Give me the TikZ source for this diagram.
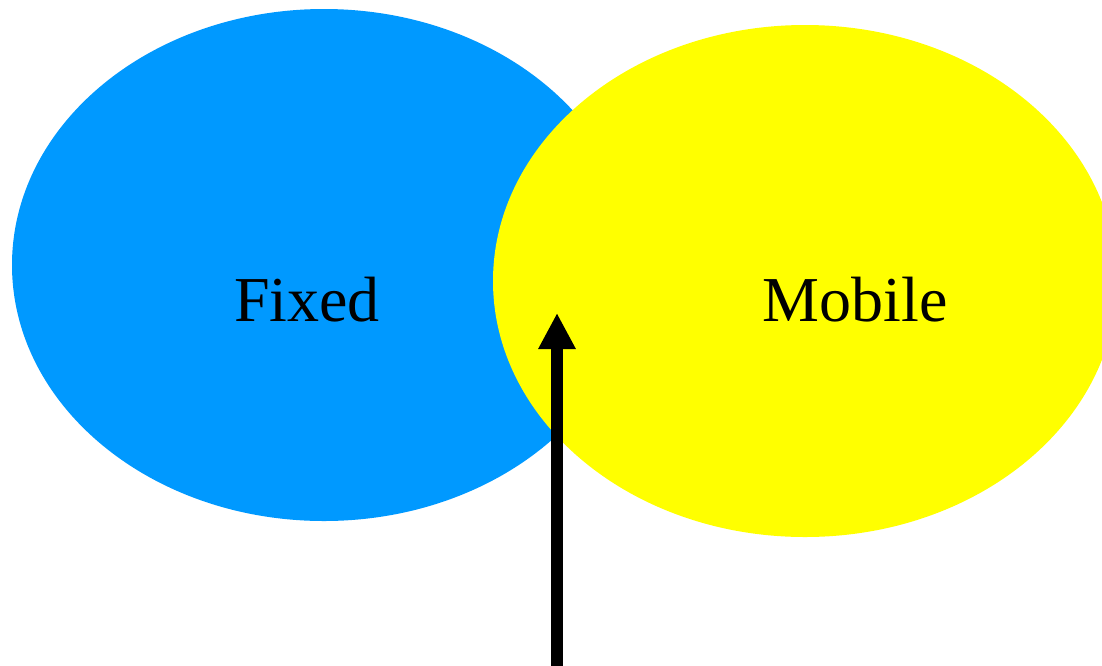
\documentclass[tikz,border=0pt]{standalone}
\usepackage{fontspec}
\setmainfont{Liberation Serif}
\usetikzlibrary{shapes.geometric,arrows.meta}
\definecolor{fixedblue}{HTML}{0099FF}
\definecolor{mobileyellow}{HTML}{FFFF00}
\tikzset{
  blob/.style={ellipse, minimum width=624pt, minimum height=512pt, inner sep=0pt, draw=none},
  lbl/.style={anchor=base, inner sep=0pt, font=\fontsize{64}{64}\selectfont, text=black},
  bigarrow/.style={line width=12pt, -{Triangle[length=36pt,width=35pt]}}
}
\begin{document}
\begin{tikzpicture}[x=1pt,y=-1pt]
\useasboundingbox (0,0) rectangle (1102,665);
\clip (0,0) rectangle (1102,665);
\fill[white] (0,0) rectangle (1102,665);
\node[blob, fill=fixedblue] (fixed) at (324,265) {};
\node[blob, fill=mobileyellow] (mobile) at (805,281) {};
\node[lbl] (fixedtext) at (307,321) {Fixed};
\node[lbl] (mobiletext) at (855,321) {Mobile};
\coordinate (arrowstart) at (557,670);
\coordinate (arrowtip) at (557,313);
\draw[bigarrow] (arrowstart) -- (arrowtip);
\end{tikzpicture}
\end{document}
